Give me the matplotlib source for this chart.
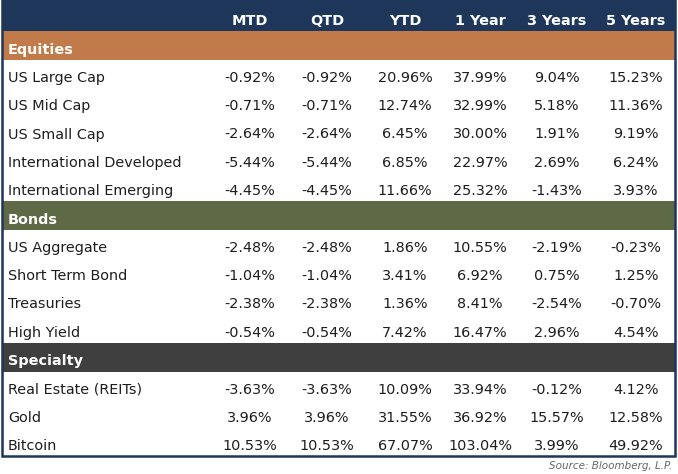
import matplotlib
matplotlib.use("Agg")
import matplotlib.pyplot as plt
from matplotlib.patches import Rectangle

# --------------------------
# DATA
# --------------------------
columns = ["MTD", "QTD", "YTD", "1 Year", "3 Years", "5 Years"]

sections = ["Equities", "Bonds", "Specialty"]
section_colors = ["#c17b4a", "#5e6a45", "#3f3f3f"]

equity_names = ["US Large Cap", "US Mid Cap", "US Small Cap",
                "International Developed", "International Emerging"]
equity_values = [
    [-0.92, -0.92, 20.96, 37.99, 9.04, 15.23],
    [-0.71, -0.71, 12.74, 32.99, 5.18, 11.36],
    [-2.64, -2.64, 6.45, 30.00, 1.91, 9.19],
    [-5.44, -5.44, 6.85, 22.97, 2.69, 6.24],
    [-4.45, -4.45, 11.66, 25.32, -1.43, 3.93],
]

bond_names = ["US Aggregate", "Short Term Bond", "Treasuries", "High Yield"]
bond_values = [
    [-2.48, -2.48, 1.86, 10.55, -2.19, -0.23],
    [-1.04, -1.04, 3.41, 6.92, 0.75, 1.25],
    [-2.38, -2.38, 1.36, 8.41, -2.54, -0.70],
    [-0.54, -0.54, 7.42, 16.47, 2.96, 4.54],
]

specialty_names = ["Real Estate (REITs)", "Gold", "Bitcoin"]
specialty_values = [
    [-3.63, -3.63, 10.09, 33.94, -0.12, 4.12],
    [3.96, 3.96, 31.55, 36.92, 15.57, 12.58],
    [10.53, 10.53, 67.07, 103.04, 3.99, 49.92],
]

source_note = "Source: Bloomberg, L.P."

# --------------------------
# LAYOUT
# --------------------------
W, H = 678, 474
NAVY = "#1d365a"
HEADER_H = 31
BAND_H = 29
ROW_H = 28.2
LEFT, RIGHT = 2, 675
LABEL_X = 8
COL_X = [250, 327, 405, 480, 557, 636]
FS = 10.4

plt.rcParams["font.family"] = ["DejaVu Sans"]

fig = plt.figure(figsize=(W / 100, H / 100), dpi=100)
ax = fig.add_axes([0, 0, 1, 1])
ax.set_xlim(0, W)
ax.set_ylim(H, 0)
ax.axis("off")

# header
ax.add_patch(Rectangle((LEFT, 0), RIGHT - LEFT, HEADER_H, color=NAVY, lw=0))
for x, c in zip(COL_X, columns):
    ax.text(x, 21, c, color="white", fontsize=FS, fontweight="semibold",
            ha="center", va="center")

y = HEADER_H
groups = [(equity_names, equity_values), (bond_names, bond_values),
          (specialty_names, specialty_values)]
for sec, col, (names, vals) in zip(sections, section_colors, groups):
    ax.add_patch(Rectangle((LEFT, y), RIGHT - LEFT, BAND_H, color=col, lw=0))
    ax.text(LABEL_X, y + BAND_H / 2 + 4, sec, color="white", fontsize=FS,
            fontweight="semibold", ha="left", va="center")
    y += BAND_H
    for name, row in zip(names, vals):
        cy = y + ROW_H / 2 + 4
        ax.text(LABEL_X, cy, name, color="#1e1e1e", fontsize=FS, ha="left", va="center")
        for x, v in zip(COL_X, row):
            ax.text(x, cy, f"{v:.2f}%", color="#1e1e1e", fontsize=FS,
                    ha="center", va="center")
        y += ROW_H

# border around table
ax.add_patch(Rectangle((LEFT, 0), RIGHT - LEFT, y, fill=False, edgecolor=NAVY, lw=1.8))

ax.text(672, y + 10, source_note, color="#666666", fontsize=7.5, style="italic",
        ha="right", va="center")

plt.savefig("out.png", dpi=100)
plt.close()
